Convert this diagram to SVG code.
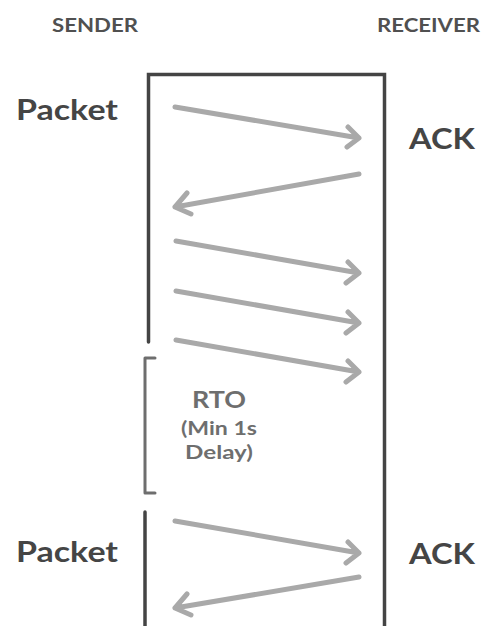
<svg xmlns="http://www.w3.org/2000/svg" width="484" height="626" viewBox="0 0 484 626">
<style>
.lbl{font-family:Lato,"Open Sans","Liberation Sans",sans-serif;font-weight:bold;fill:#454545}
.hdr{font-family:Lato,"Open Sans","Liberation Sans",sans-serif;font-weight:bold;fill:#505050;font-size:18px}
.rto{font-family:Lato,"Open Sans","Liberation Sans",sans-serif;font-weight:bold;fill:#6e6e6e;text-anchor:middle}
.line{fill:none;stroke:#444;stroke-width:3.5;stroke-linecap:round}
.brk{fill:none;stroke:#6e6e6e;stroke-width:3;stroke-linecap:round;stroke-linejoin:round}
.arr{fill:none;stroke:#a9a9a9;stroke-width:5;stroke-linecap:round;stroke-linejoin:round}
</style>
<rect width="484" height="626" fill="#ffffff"/>
<g id="sender-header"><text class="hdr" x="52" y="32" textLength="86" lengthAdjust="spacingAndGlyphs">SENDER</text></g>
<g id="receiver-header"><text class="hdr" x="377" y="32" textLength="103" lengthAdjust="spacingAndGlyphs">RECEIVER</text></g>
<g id="timeline">
<path class="line" d="M148.5,342 V74.5 H384.5 V626"/>
<path class="line" d="M145,512 V626"/>
</g>
<g id="rto-bracket">
<path class="brk" d="M155,358 H145 V493 H155"/>
</g>
<g id="packet-1"><text class="lbl" x="16" y="120" font-size="28" textLength="102" lengthAdjust="spacingAndGlyphs">Packet</text></g>
<g id="ack-1"><text class="lbl" x="409" y="149" font-size="29" textLength="66" lengthAdjust="spacingAndGlyphs">ACK</text></g>
<g id="rto-label">
<text class="rto" x="219" y="408" font-size="23" textLength="54" lengthAdjust="spacingAndGlyphs">RTO</text>
<text class="rto" x="219" y="435" font-size="19" textLength="76" lengthAdjust="spacingAndGlyphs">(Min 1s</text>
<text class="rto" x="219" y="459" font-size="19" textLength="68" lengthAdjust="spacingAndGlyphs">Delay)</text>
</g>
<g id="packet-2"><text class="lbl" x="16" y="562" font-size="28" textLength="102" lengthAdjust="spacingAndGlyphs">Packet</text></g>
<g id="ack-2"><text class="lbl" x="409" y="564" font-size="29" textLength="66" lengthAdjust="spacingAndGlyphs">ACK</text></g>
<g id="connectors">
<path class="arr" d="M175,107 L359,138 M348,127 L359,138 L347,147"/>
<path class="arr" d="M359,174 L175,207 M187,193 L175,207 L191,214"/>
<path class="arr" d="M176,241 L359,273 M348,262 L359,273 L346,283"/>
<path class="arr" d="M176,291 L359,323 M348,312 L359,323 L346,333"/>
<path class="arr" d="M176,340 L359,372 M348,361 L359,372 L346,382"/>
<path class="arr" d="M175,521 L359,553 M348,542 L359,553 L346,563"/>
<path class="arr" d="M359,577 L175,608 M187,594 L175,608 L191,615"/>
</g>
</svg>
